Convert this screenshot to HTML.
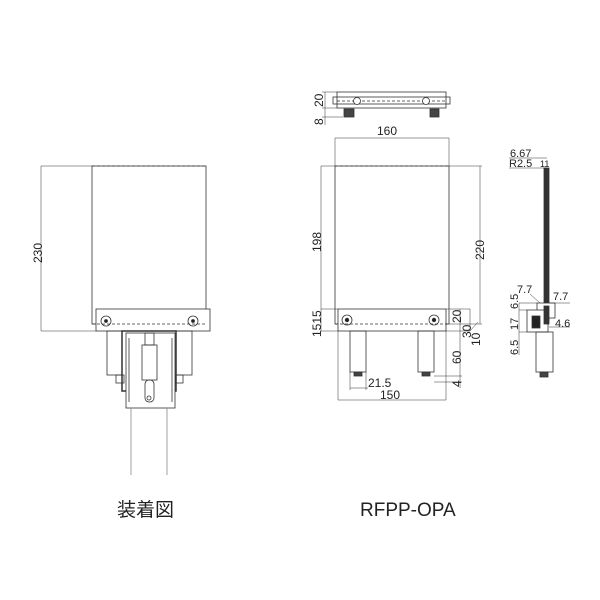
<!DOCTYPE html>
<html><head><meta charset="utf-8"><style>
html,body{margin:0;padding:0;background:#fff;}
svg{display:block}
text{font-family:"Liberation Sans","Noto Sans CJK JP",sans-serif;fill:#222;}
</style></head><body>
<svg width="600" height="600" viewBox="0 0 600 600" xmlns="http://www.w3.org/2000/svg">
<g fill="none" stroke="#333" stroke-width="0.8">
<rect x="92" y="166" width="114" height="158" fill="#fff"/>
<line x1="92" y1="166" x2="206" y2="166" stroke-dasharray="3,2"/>
<line x1="41" y1="166" x2="92" y2="166" stroke-width="0.5"/>
<line x1="41" y1="331" x2="96" y2="331" stroke-width="0.5"/>
<line x1="41" y1="166" x2="41" y2="331" stroke-width="0.5"/>
<rect x="96" y="309" width="114" height="22" fill="#fff"/>
<line x1="92" y1="324" x2="206" y2="324" stroke-dasharray="3,2"/>
<circle cx="106" cy="321" r="5"/><circle cx="106" cy="321" r="1.5" fill="#222"/>
<circle cx="193" cy="321" r="5"/><circle cx="193" cy="321" r="1.5" fill="#222"/>
<rect x="107" y="331" width="15" height="44"/>
<rect x="176" y="331" width="16" height="44"/>
<rect x="116" y="375" width="8" height="8"/>
<rect x="175" y="375" width="8" height="8"/>
<rect x="122" y="331" width="54" height="60" stroke-width="1.5"/>
<rect x="126" y="333" width="49" height="75" fill="#fff"/>
<line x1="129" y1="338" x2="129" y2="402"/>
<line x1="172" y1="338" x2="172" y2="402"/>
<rect x="145" y="333" width="9" height="12"/>
<rect x="142" y="345" width="15" height="35"/>
<rect x="145" y="380" width="9" height="22" rx="4"/>
<circle cx="149" cy="398" r="2"/>
<line x1="131" y1="408" x2="131" y2="475" stroke="#888"/>
<line x1="167" y1="408" x2="167" y2="475" stroke="#888"/>

<rect x="337" y="92" width="109" height="16"/>
<rect x="333" y="97" width="117" height="7"/>
<line x1="337" y1="101" x2="446" y2="101" stroke-dasharray="3,2"/>
<circle cx="357" cy="101" r="3.5" fill="#fff"/>
<circle cx="426" cy="101" r="3.5" fill="#fff"/>
<rect x="344" y="109" width="10" height="8" fill="#444"/>
<rect x="430" y="109" width="9" height="8" fill="#444"/>
<g stroke-width="0.5">
<line x1="322" y1="92" x2="337" y2="92"/><line x1="322" y1="108" x2="337" y2="108"/>
<line x1="322" y1="117" x2="343" y2="117"/><line x1="325" y1="92" x2="325" y2="125"/>
</g>

<rect x="335" y="166" width="114" height="158" fill="#fff"/>
<line x1="335" y1="166" x2="449" y2="166" stroke-dasharray="3,2"/>
<g stroke-width="0.5">
<line x1="335" y1="138" x2="449" y2="138"/>
<line x1="335" y1="138" x2="335" y2="166"/><line x1="449" y1="138" x2="449" y2="166"/>
<line x1="321" y1="166" x2="335" y2="166"/><line x1="321" y1="166" x2="321" y2="331"/>
<line x1="321" y1="309" x2="338" y2="309"/><line x1="321" y1="331" x2="338" y2="331"/>
<line x1="449" y1="166" x2="482" y2="166"/><line x1="480" y1="166" x2="480" y2="324"/>
<line x1="449" y1="324" x2="482" y2="324"/>
<line x1="446" y1="309" x2="470" y2="309"/><line x1="446" y1="331" x2="470" y2="331"/>
<line x1="460" y1="309" x2="460" y2="331"/><line x1="470" y1="309" x2="470" y2="331"/>
<line x1="470" y1="331" x2="478" y2="322"/>
<line x1="446" y1="331" x2="446" y2="400"/><line x1="338" y1="331" x2="338" y2="400"/>
<line x1="338" y1="400" x2="446" y2="400"/>
<line x1="350" y1="372" x2="350" y2="390"/><line x1="366" y1="372" x2="366" y2="390"/>
<line x1="350" y1="388" x2="368" y2="388"/>
<line x1="434" y1="376" x2="462" y2="376"/><line x1="434" y1="382" x2="462" y2="382"/>
<line x1="460" y1="331" x2="460" y2="388"/>
</g>
<rect x="338" y="309" width="108" height="22" fill="#fff"/>
<line x1="335" y1="324" x2="449" y2="324" stroke-dasharray="3,2"/>
<circle cx="347" cy="320" r="5"/><circle cx="347" cy="320" r="1.8" fill="#222"/>
<circle cx="434" cy="320" r="5"/><circle cx="434" cy="320" r="1.8" fill="#222"/>
<rect x="350" y="331" width="16" height="41"/>
<rect x="418" y="331" width="16" height="41"/>
<rect x="354" y="372" width="8" height="4" fill="#444"/>
<rect x="422" y="372" width="8" height="4" fill="#444"/>

<rect x="544" y="168" width="5" height="152" fill="#333"/>
<rect x="537" y="303" width="18" height="15" fill="#fff"/>
<rect x="527" y="310" width="21" height="22" fill="#fff"/>
<rect x="532" y="316" width="8" height="12" fill="#222"/>
<rect x="536" y="332" width="17" height="40"/>
<rect x="540" y="372" width="8" height="5" fill="#444"/>
<rect x="544" y="306" width="5" height="18" fill="#333"/>
<g stroke-width="0.5">
<line x1="509" y1="158" x2="547" y2="158"/><line x1="509" y1="168" x2="547" y2="168"/>
<line x1="519" y1="303" x2="537" y2="303"/><line x1="519" y1="303" x2="519" y2="355"/>
<line x1="519" y1="310" x2="527" y2="310"/><line x1="519" y1="332" x2="527" y2="332"/>
<line x1="549" y1="303" x2="570" y2="303"/><line x1="549" y1="327" x2="570" y2="327"/>
<line x1="530" y1="294" x2="540" y2="303"/>
</g>
</g>

<g font-size="12">
<text x="0" y="0" transform="translate(42,263) rotate(-90)">230</text>
<text x="0" y="0" transform="translate(323,107) rotate(-90)">20</text>
<text x="0" y="0" transform="translate(323,125) rotate(-90)">8</text>
<text x="377" y="135">160</text>
<text x="0" y="0" transform="translate(321,252) rotate(-90)">198</text>
<text x="0" y="0" transform="translate(484,260) rotate(-90)">220</text>
<text x="0" y="0" transform="translate(321,337) rotate(-90)">1515</text>
<text x="0" y="0" transform="translate(461,323) rotate(-90)">20</text>
<text x="0" y="0" transform="translate(471,338) rotate(-90)">30</text>
<text x="0" y="0" transform="translate(480,346) rotate(-90)">10</text>
<text x="0" y="0" transform="translate(461,364) rotate(-90)">60</text>
<text x="0" y="0" transform="translate(461,387) rotate(-90)">4</text>
<text x="368" y="387">21.5</text>
<text x="380" y="399">150</text>
<text x="510" y="157" font-size="11">6.67</text>
<text x="509" y="167" font-size="11">R2.5</text>
<text x="540" y="167" font-size="9">11</text>
<text x="517" y="293" font-size="11">7.7</text>
<text x="553" y="300" font-size="11">7.7</text>
<text x="0" y="0" font-size="11" transform="translate(518,309) rotate(-90)">6.5</text>
<text x="0" y="0" font-size="11" transform="translate(518,330) rotate(-90)">17</text>
<text x="0" y="0" font-size="11" transform="translate(518,355) rotate(-90)">6.5</text>
<text x="555" y="327" font-size="11">4.6</text>
</g>
<text x="117" y="516" font-size="19">装着図</text>
<text x="360" y="516" font-size="19">RFPP-OPA</text>
</svg>
</body></html>
